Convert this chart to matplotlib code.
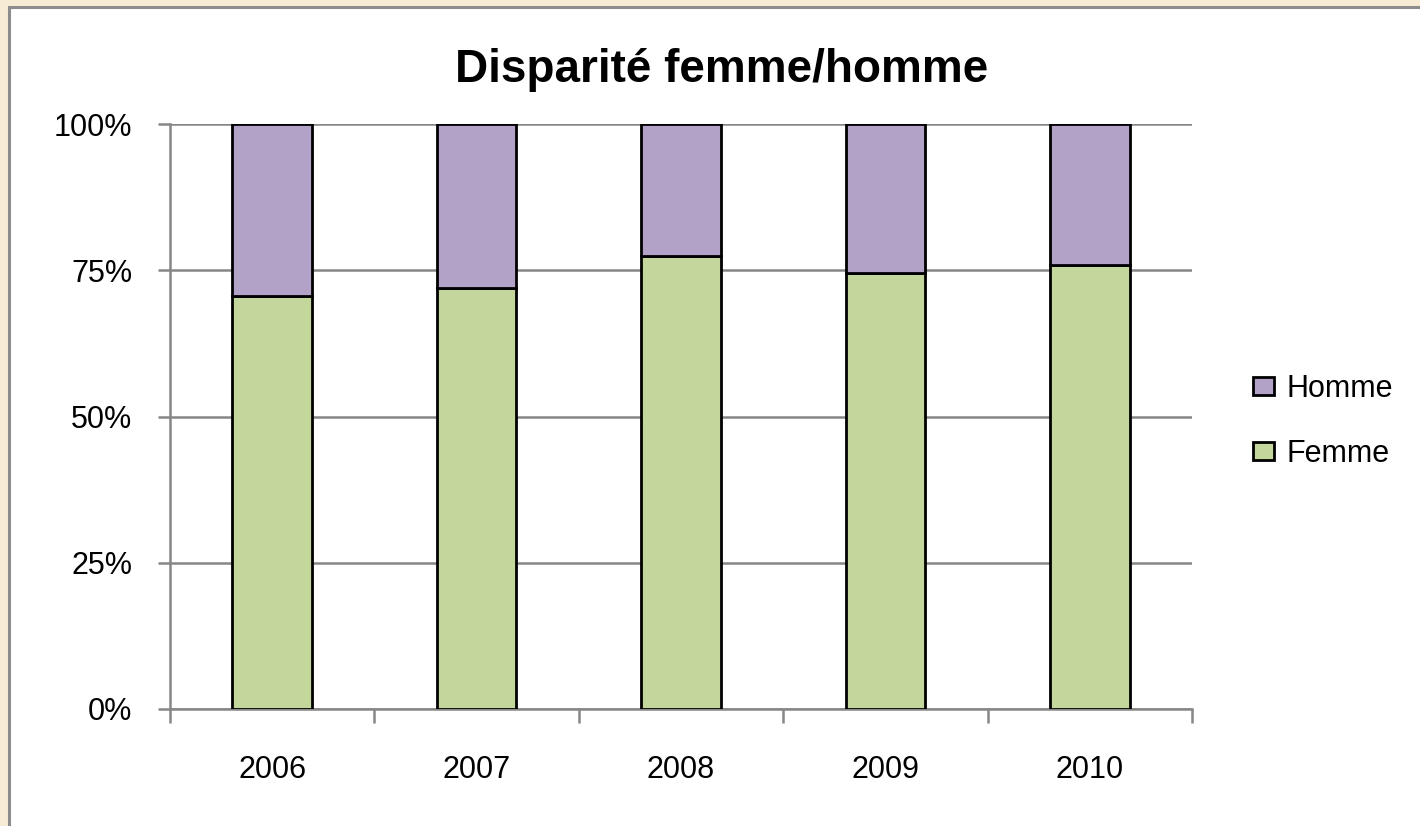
import numpy as np
import matplotlib.pyplot as plt
from matplotlib.patches import Rectangle, Patch
from matplotlib.ticker import FixedLocator, FuncFormatter

plt.rcParams['font.family'] = ['Liberation Sans', 'DejaVu Sans']

years = ["2006", "2007", "2008", "2009", "2010"]
femme = [70.6, 72.0, 77.4, 74.5, 75.9]
homme = [100 - f for f in femme]

c_femme = "#C3D69B"
c_homme = "#B3A2C7"
grey = "#878787"

fig = plt.figure(figsize=(14.2, 8.26), dpi=100)
fig.patch.set_facecolor("#F8EBD3")
# white chart area with grey border (cropped at right and bottom)
fig.patches.append(Rectangle((8.5 / 1420, -0.05), 1.1, (826 - 6.5) / 826 + 0.05,
                             transform=fig.transFigure, facecolor="white",
                             edgecolor="#8C8C8C", linewidth=2.2, zorder=-1))

ax = fig.add_axes([170 / 1420, 1 - 709 / 826, (1192 - 170) / 1420, (709 - 124) / 826])
ax.set_facecolor("none")

x = np.arange(len(years))
w = 0.39
ax.bar(x, femme, w, color=c_femme, edgecolor="black", linewidth=2, zorder=3)
ax.bar(x, homme, w, bottom=femme, color=c_homme, edgecolor="black", linewidth=2, zorder=3)

ax.set_xlim(-0.5, len(years) - 0.5)
ax.set_ylim(0, 100)
ax.set_yticks([0, 25, 50, 75, 100])
ax.yaxis.set_major_formatter(FuncFormatter(lambda v, p: f"{int(v)}%"))
ax.grid(axis="y", color=grey, linewidth=1.8, zorder=0)

# ticks at category boundaries, labels at centres
ax.xaxis.set_major_locator(FixedLocator(np.arange(-0.5, len(years), 1.0)))
ax.xaxis.set_minor_locator(FixedLocator(x))
ax.set_xticklabels([], minor=False)
ax.set_xticklabels(years, minor=True)
ax.tick_params(axis="x", which="major", length=10, width=1.8, color=grey, direction="out")
ax.tick_params(axis="x", which="minor", length=0, pad=33, labelsize=22)
ax.tick_params(axis="y", length=9, width=1.8, color=grey, pad=18, labelsize=22)

for s in ["top", "right"]:
    ax.spines[s].set_visible(False)
for s in ["left", "bottom"]:
    ax.spines[s].set_color(grey)
    ax.spines[s].set_linewidth(1.8)

fig.text(722 / 1420, 1 - 70 / 826, "Disparité femme/homme", ha="center", va="center",
         fontsize=33, fontweight="bold")

handles = [Patch(facecolor=c_homme, edgecolor="black", linewidth=2, label="Homme"),
           Patch(facecolor=c_femme, edgecolor="black", linewidth=2, label="Femme")]
fig.legend(handles=handles, loc="center left", bbox_to_anchor=(1253 / 1420, 0.49),
           frameon=False, fontsize=22, handlelength=0.7, handleheight=0.55,
           handletextpad=0.4, labelspacing=1.15, borderpad=0, borderaxespad=0)

fig.savefig("out.png", dpi=100)
